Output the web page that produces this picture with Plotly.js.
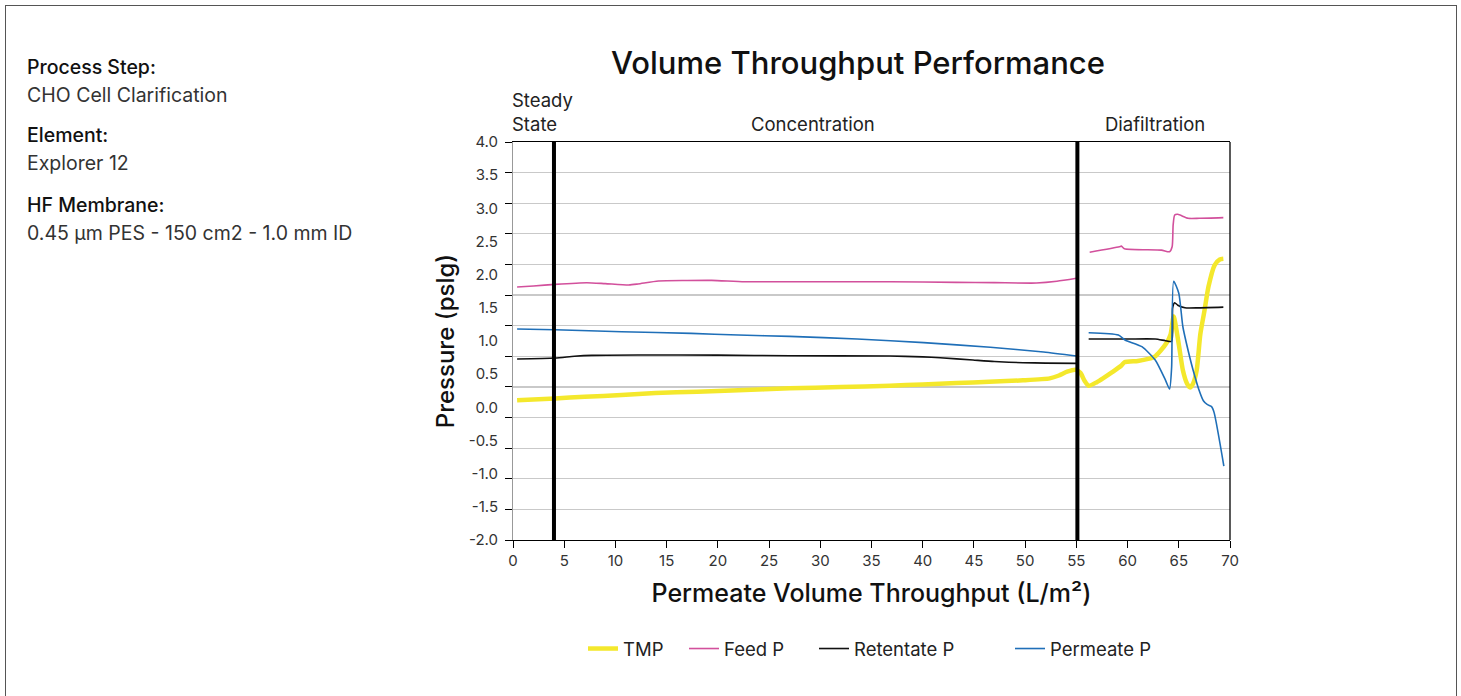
<!DOCTYPE html>
<html>
<head>
<meta charset="utf-8">
<script src="https://cdn.plot.ly/plotly-3.0.1.min.js"></script>
<style>
  html, body { margin: 0; padding: 0; background: #fff; }
  #chart { position: absolute; left: 0; top: 0; width: 1461px; height: 696px; }
  #frame { position: absolute; left: 5px; top: 5px; width: 1450px; height: 700px; border: 1px solid #555; pointer-events: none; }
</style>
</head>
<body>
<div id="chart"></div>
<div id="frame"></div>
<script>
// ---------------- data ----------------
const tmpX = [0.4, 4.1, 7, 10.6, 13.9, 18, 22, 27, 32, 36.8, 40, 43.3, 46.5, 49.8, 52.4, 53.3, 54.1, 54.9,
  55.4, 55.8, 56.2, 57, 57.6, 58.5, 59.4, 59.7, 61, 62, 62.7, 63.2, 63.8, 64.2, 64.5,
  65.0, 65.4, 65.8, 66.1, 66.4, 66.75, 67.1, 67.5, 67.9, 68.5, 69.0, 69.35];
const tmpY = [0.105, 0.135, 0.16, 0.185, 0.215, 0.235, 0.256, 0.286, 0.306, 0.326, 0.346, 0.366, 0.385, 0.407, 0.437, 0.48, 0.537, 0.567,
  0.52, 0.40, 0.326, 0.38, 0.437, 0.53, 0.63, 0.68, 0.70, 0.73, 0.77, 0.85, 0.97, 1.10, 1.37,
  0.95, 0.56, 0.36, 0.30, 0.36, 0.56, 1.10, 1.45, 1.82, 2.145, 2.23, 2.24];

const feedX = [0.4, 2, 4.1, 7.2, 9, 11.3, 12.2, 14.2, 17, 19.4, 22.6, 27, 32, 36.8, 43.3, 47, 51.1, 53.1, 55.0,
  null, 56.3, 59.2, 59.4, 59.7, 63.3, 64.1, 64.35, 64.45, 64.6, 64.9, 65.9, 67, 69.35];
const feedY = [1.814, 1.83, 1.854, 1.879, 1.865, 1.844, 1.859, 1.904, 1.912, 1.914, 1.894, 1.894, 1.894, 1.894, 1.884, 1.88, 1.874, 1.90, 1.945,
  null, 2.337, 2.42, 2.43, 2.39, 2.37, 2.346, 2.42, 2.75, 2.90, 2.91, 2.85, 2.85, 2.86];

const retX = [0.4, 4.1, 6, 7.7, 12.2, 20, 27, 36.8, 40, 41.7, 44.9, 47, 49.8, 52, 55.0,
  null, 56.2, 60, 62.7, 63.7, 64.3, 64.4, 64.6, 64.9, 65.6, 67, 69.35];
const retY = [0.728, 0.743, 0.77, 0.784, 0.789, 0.787, 0.778, 0.773, 0.76, 0.748, 0.713, 0.69, 0.673, 0.667, 0.663,
  null, 1.03, 1.03, 1.03, 1.005, 0.995, 1.50, 1.577, 1.54, 1.50, 1.50, 1.51];

const permX = [0.4, 4.1, 10.6, 17.4, 22, 27, 33.6, 40.1, 46.6, 51.8, 55.0,
  null, 56.2, 59.1, 59.75, 61.4, 62.7, 63.7, 64.1, 64.3, 64.5, 65.0, 65.4, 66.0, 66.4, 67.0, 67.4, 67.8, 68.2, 68.45, 69.4];
const permY = [1.18, 1.17, 1.14, 1.115, 1.09, 1.07, 1.03, 0.975, 0.905, 0.834, 0.773,
  null, 1.125, 1.09, 1.015, 0.914, 0.713, 0.41, 0.276, 0.6, 1.90, 1.72, 1.215, 0.8, 0.56, 0.25, 0.10, 0.04, 0.01, -0.08, -0.885];

const seriesNames = ['TMP', 'Feed P', 'Retentate P', 'Permeate P'];
const phaseBoundaries = [4, 55.1];
const phaseLabels = ['Steady<br>State', 'Concentration', 'Diafiltration'];
const phaseLabelX = [0, 29.3, 62.7];
const xTickVals = [0, 5, 10, 15, 20, 25, 30, 35, 40, 45, 50, 55, 60, 65, 70];
const yTickVals = [4.0, 3.5, 3.0, 2.5, 2.0, 1.5, 1.0, 0.5, 0.0, -0.5, -1.0, -1.5, -2.0];
const yTickText = ['4.0', '3.5', '3.0', '2.5', '2.0', '1.5', '1.0', '0.5', '0.0', '-0.5', '-1.0', '-1.5', '-2.0'];
const infoHeads = ['Process Step:', 'Element:', 'HF Membrane:'];
const infoValues = ['CHO Cell Clarification', 'Explorer 12', '0.45 µm PES - 150 cm2 - 1.0 mm ID'];

// ---------------- layout helpers ----------------
const FONT = 'Inter, "Open Sans", sans-serif';
const L = 513, R = 1230, T = 142, B = 540;
const px2x = p => (p - L) / (R - L);
const py2y = p => (B - p) / (B - T);

const colors = ['#f4e82c', '#d2509c', '#111111', '#1f6fb8'];
const widths = [4.5, 1.6, 1.6, 1.6];
const xs = [tmpX, feedX, retX, permX];
const ys = [tmpY, feedY, retY, permY];
const legendKeys = ['legend', 'legend2', 'legend3', 'legend4'];
const legendLeft = [583, 684, 814, 1010];

const traces = seriesNames.map((n, i) => ({
  type: 'scatter', mode: 'lines', name: n,
  x: xs[i], y: ys[i], connectgaps: false,
  line: { color: colors[i], width: widths[i], shape: 'spline', smoothing: 0.6 },
  legend: legendKeys[i], showlegend: true, xaxis: 'x', yaxis: 'y'
}));
// dummy trace for grid axis
traces.push({ type: 'scatter', mode: 'lines', x: [0], y: [0], yaxis: 'y2', showlegend: false, hoverinfo: 'skip', line: { width: 0 } });

const annotations = [];
phaseLabels.forEach((t, i) => {
  annotations.push({
    text: t, xref: 'x', yref: 'paper', x: phaseLabelX[i], y: py2y(i === 0 ? 112 : 124),
    xanchor: i === 0 ? 'left' : 'center', xshift: i === 0 ? -3 : 0, yanchor: 'middle', align: 'left', showarrow: false,
    font: { family: FONT, size: 18.5, color: '#222' }
  });
});
const headY = [67, 135, 205];
infoHeads.forEach((t, i) => {
  annotations.push({ text: t, xref: 'paper', yref: 'paper', x: px2x(25), y: py2y(headY[i]),
    xanchor: 'left', yanchor: 'middle', showarrow: false,
    font: { family: FONT, size: 19.5, color: '#111', weight: 500 } });
  annotations.push({ text: infoValues[i], xref: 'paper', yref: 'paper', x: px2x(25), y: py2y(headY[i] + 28),
    xanchor: 'left', yanchor: 'middle', showarrow: false,
    font: { family: FONT, size: 19.5, color: '#333' } });
});

const shapes = phaseBoundaries.map(b => ({
  type: 'line', xref: 'x', yref: 'paper', x0: b, x1: b, y0: 0, y1: 1,
  line: { color: '#000', width: 4 }, layer: 'above'
}));
shapes.push({ type: 'line', xref: 'paper', yref: 'paper', x0: 1, x1: 1, y0: 0, y1: 1, line: { color: '#000', width: 1.3 } });

const layout = {
  width: 1461, height: 696,
  margin: { l: L, r: 1461 - R, t: T, b: 696 - B, pad: 0 },
  paper_bgcolor: '#fff', plot_bgcolor: '#fff',
  font: { family: FONT, color: '#333' },
  title: { text: 'Volume Throughput Performance', xref: 'paper', x: px2x(858), xanchor: 'center',
    yref: 'container', y: 1 - 63 / 696, yanchor: 'middle',
    font: { family: FONT, size: 31, color: '#111', weight: 500 } },
  xaxis: {
    range: [0, 70], tickvals: xTickVals, ticks: 'outside', ticklen: 7, tickcolor: '#000', tickwidth: 1,
    showline: true, linecolor: '#000', linewidth: 1.3, mirror: true, showgrid: false, zeroline: false,
    tickfont: { family: FONT, size: 15, color: '#333' },
    title: { text: 'Permeate Volume Throughput (L/m²)', standoff: 15, font: { family: FONT, size: 25, color: '#111', weight: 500 } }
  },
  yaxis: {
    range: [-2, 4], tickvals: yTickVals, ticktext: yTickText, ticks: '', showgrid: false, zeroline: false, showline: false,
    ticklabelstandoff: 14, tickfont: { family: FONT, size: 15, color: '#333' },
    title: { text: 'Pressure (pslg)', standoff: 7, font: { family: FONT, size: 24, color: '#111', weight: 500 } }
  },
  yaxis2: {
    overlaying: 'y', range: [0, 13], dtick: 1, showticklabels: false, ticks: 'outside', ticklen: 7, tickcolor: '#000',
    showgrid: true, gridcolor: '#c9c9c9', gridwidth: 1.2, zeroline: false, showline: true, linecolor: '#999', linewidth: 1.3
  },
  annotations: annotations,
  shapes: shapes,
  showlegend: true
};
legendKeys.forEach((k, i) => {
  layout[k] = { x: px2x(legendLeft[i]), xref: 'paper', xanchor: 'left', y: py2y(649), yref: 'paper', yanchor: 'middle',
    orientation: 'h', bgcolor: 'rgba(0,0,0,0)', font: { family: FONT, size: 18.5, color: '#222' } };
});

Plotly.newPlot('chart', traces, layout, { displayModeBar: false, staticPlot: true });
</script>
</body>
</html>
